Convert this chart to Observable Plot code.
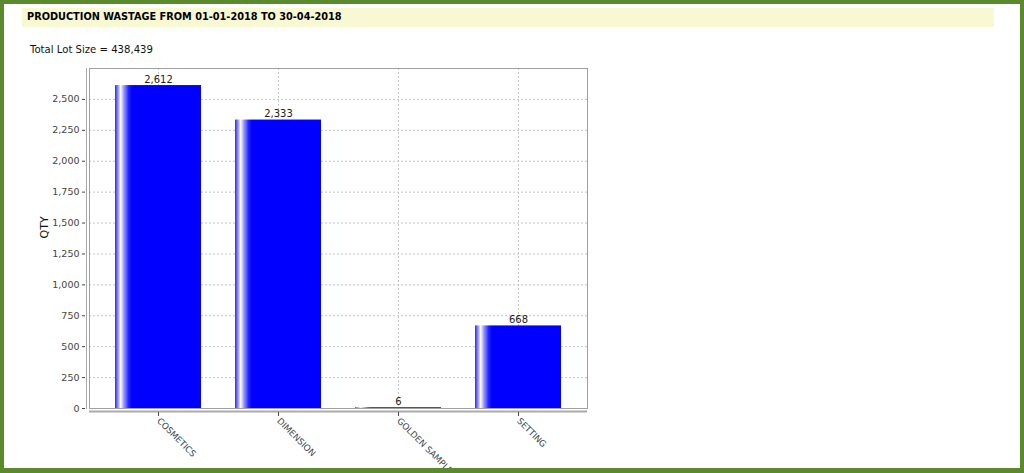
<!DOCTYPE html>
<html>
<head>
<meta charset="utf-8">
<script src="https://cdn.jsdelivr.net/npm/d3@7"></script>
<script src="https://cdn.jsdelivr.net/npm/@observablehq/plot@0.6"></script>
<style>
  html, body { margin: 0; padding: 0; background: #fff; }
  #page { position: relative; width: 1024px; height: 473px; overflow: hidden; font-family: "DejaVu Sans", Verdana, sans-serif; }
  #border { position: absolute; left: 0; top: 0; width: 1024px; height: 473px; box-sizing: border-box; border: 4px solid #5b8a2e; border-bottom-width: 5px; z-index: 5; pointer-events: none; }
  #titlebar { position: absolute; left: 22px; top: 8px; width: 972px; height: 19px; background: #f8f8d2; }
  #title { position: absolute; left: 27px; top: 11px; font-weight: bold; font-size: 9.75px; color: #000; white-space: nowrap; }
  #lot { position: absolute; left: 30px; top: 44px; font-size: 10.1px; color: #111; white-space: nowrap; }
  #chart { position: absolute; left: 0; top: 0; }
  #chart svg { overflow: visible; }
</style>
</head>
<body>
<div id="page">
  <div id="titlebar"></div>
  <div id="title"></div>
  <div id="lot"></div>
  <div id="chart"></div>
  <div id="border"></div>
</div>
<script>
const titleText = "PRODUCTION WASTAGE FROM 01-01-2018 TO 30-04-2018";
const lotText = "Total Lot Size = 438,439";
const categories = ["COSMETICS", "DIMENSION", "GOLDEN SAMPLE", "SETTING"];
const quantities = [2612, 2333, 6, 668];
const yTicks = [0, 250, 500, 750, 1000, 1250, 1500, 1750, 2000, 2250, 2500];
const yLabel = "QTY";

document.getElementById("title").textContent = titleText;
document.getElementById("lot").textContent = lotText;

const data = categories.map((c, i) => ({category: c, qty: quantities[i]}));
const fmt = d3.format(",");

const chart = Plot.plot({
  width: 600,
  height: 473,
  marginLeft: 89,
  marginRight: 13,
  marginTop: 68,
  marginBottom: 65,
  style: {fontFamily: "DejaVu Sans, Verdana, sans-serif", background: "transparent", overflow: "visible"},
  x: {domain: categories, paddingInner: 0.28, paddingOuter: 0.2, label: null},
  y: {domain: [0, 2750], label: null},
  marks: [
    Plot.gridY(yTicks, {stroke: "#c4c4c4", strokeOpacity: 1, strokeDasharray: "2,2"}),
    Plot.gridX(categories, {stroke: "#c4c4c4", strokeOpacity: 1, strokeDasharray: "2,2"}),
    Plot.barY(data, {x: "category", y: "qty", fill: "url(#barGrad)"}),
    Plot.text(data, {x: "category", y: "qty", text: d => fmt(d.qty), dy: -6, fontSize: 10, fill: "#222"}),
    Plot.frame({stroke: "#a0a0a0"}),
    Plot.frame({anchor: "left", dx: -3, stroke: "#a8a8a8"}),
    Plot.ruleY([0], {stroke: "#aaaaaa", strokeWidth: 2, dy: 3}),
    Plot.axisY({ticks: yTicks, tickFormat: fmt, tickSize: 3, tickPadding: 3, dx: -4, fontSize: 9.5, color: "#444", label: null}),
    Plot.axisX({tickSize: 4, dy: 4, tickRotate: 45, fontSize: 8.7, color: "#444", label: null, tickPadding: 3}),
    Plot.text([yLabel], {frameAnchor: "left", dx: -45, rotate: -90, fontSize: 11, fill: "#111"})
  ]
});

const svg = d3.select(chart);
const defs = svg.insert("defs", ":first-child");
const g = defs.append("linearGradient").attr("id", "barGrad").attr("x1", 0).attr("x2", 1).attr("y1", 0).attr("y2", 0);
[[0, "#2a2aff"], [0.035, "#9090ff"], [0.065, "#ffffff"], [0.1, "#a0a0ff"], [0.16, "#2020ff"], [0.2, "#0000ff"], [1, "#0000ff"]]
  .forEach(([o, c]) => g.append("stop").attr("offset", o).attr("stop-color", c));

document.getElementById("chart").appendChild(chart);
</script>
</body>
</html>
